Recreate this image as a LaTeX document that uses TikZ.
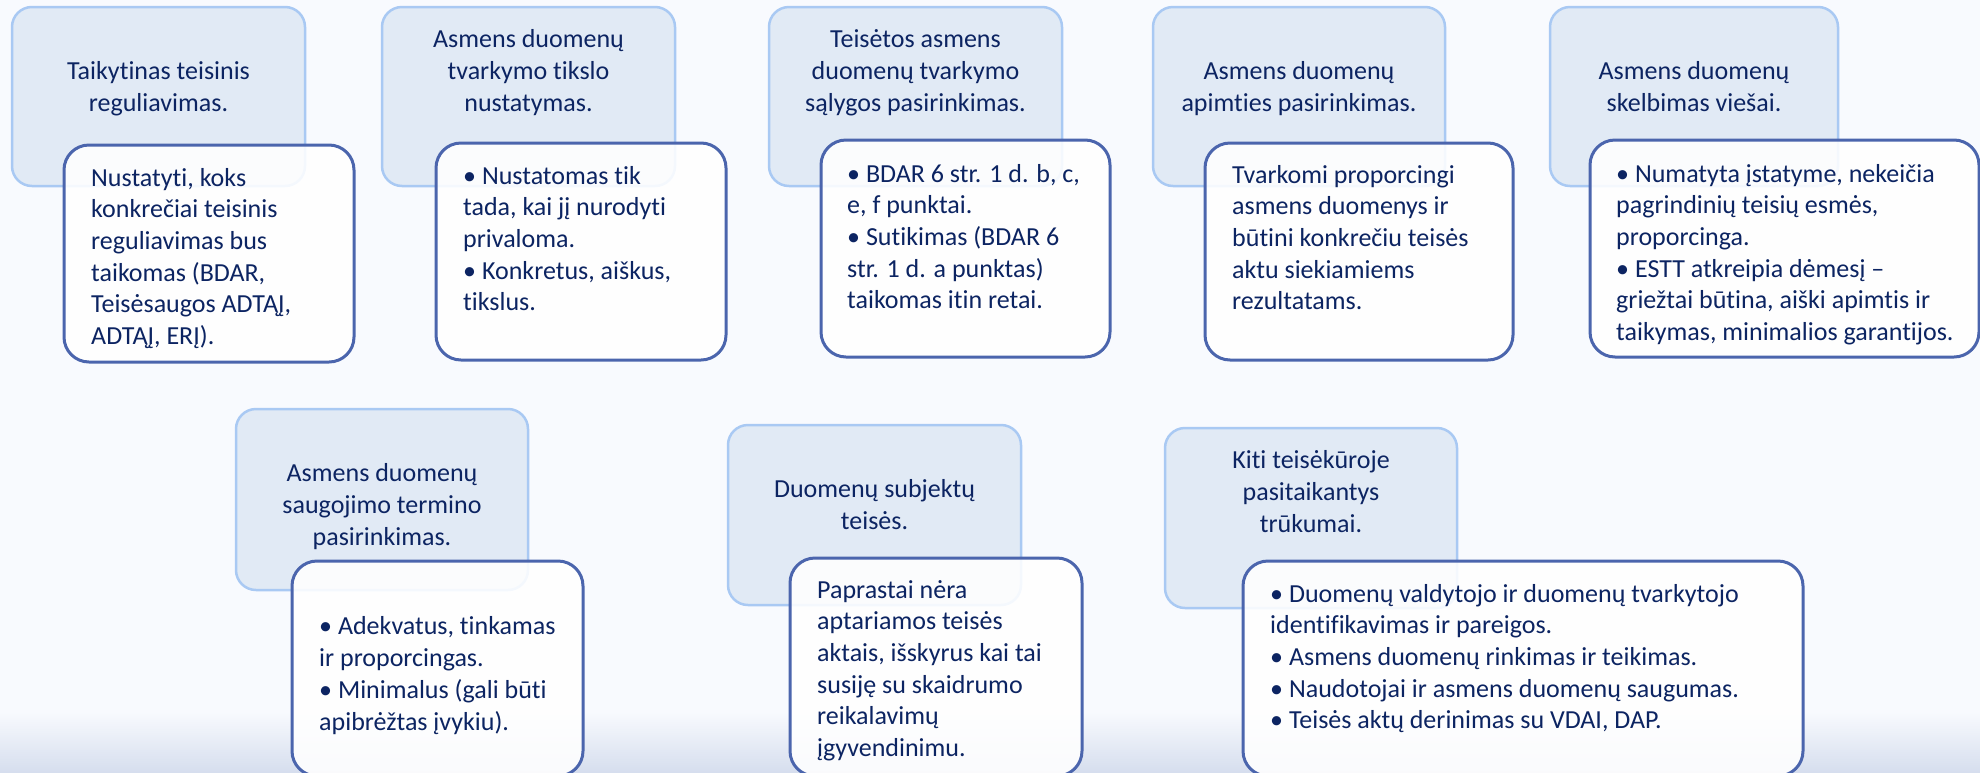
\documentclass[tikz,border=0pt]{standalone}
\usepackage{fontspec}
\setmainfont{Carlito}[Ligatures=NoCommon]
\definecolor{bg}{HTML}{F8FAFE}
\definecolor{bgbot}{HTML}{D6DEEE}
\definecolor{lightfill}{HTML}{E1EAF5}
\definecolor{lightedge}{HTML}{A9C9F3}
\definecolor{inneredge}{HTML}{4B65AD}
\definecolor{txt}{HTML}{0C2462}
\tikzset{
 lightbox/.style={draw=lightedge, line width=2.5pt, fill=lightfill, rounded corners=20pt},
 innerbox/.style={draw=inneredge, line width=3pt, fill=white, fill opacity=0.88, rounded corners=25pt},
 hdr/.style={align=center, text=txt, inner sep=0pt, anchor=base, font=\fontsize{26}{32}\selectfont},
 body/.style={align=left, text=txt, inner sep=0pt, anchor=base west, font=\fontsize{26}{31.7}\selectfont},
}
\begin{document}
\begin{tikzpicture}[x=1pt,y=-1pt]
\useasboundingbox (0,0) rectangle (1980,772);
\fill[bg] (0,0) rectangle (1980,772);
\shade[top color=bg, bottom color=bgbot] (0,712) rectangle (1980,772);
% ---- top row ----
\path[lightbox] (12,7) rectangle (305,186);
\node[hdr] (h1) at (158.5,111) {Taikytinas teisinis\\reguliavimas.};
\path[innerbox] (64,145) rectangle (354,362);
\node[body] (b1) at (91,344.5) {Nustatyti, koks\\konkrečiai teisinis\\reguliavimas bus\\taikomas (BDAR,\\Teisėsaugos ADTĄĮ,\\ADTĄĮ, ERĮ).};

\path[lightbox] (382,7) rectangle (675,186);
\node[hdr] (h2) at (528.5,111) {Asmens duomenų\\tvarkymo tikslo\\nustatymas.};
\path[innerbox] (436,143) rectangle (726,360);
\node[body] (b2) at (463,310.8) {• Nustatomas tik\\tada, kai jį nurodyti\\privaloma.\\• Konkretus, aiškus,\\tikslus.};

\path[lightbox] (769,7) rectangle (1062,186);
\node[hdr] (h3) at (915.5,111) {Teisėtos asmens\\duomenų tvarkymo\\sąlygos pasirinkimas.};
\path[innerbox] (821,140) rectangle (1110,357);
\node[body] (b3) at (847,308.8) {• BDAR 6 str. 1 d. b, c,\\e, f punktai.\\• Sutikimas (BDAR 6\\str. 1 d. a punktas)\\taikomas itin retai.};

\path[lightbox] (1153,7) rectangle (1445,186);
\node[hdr] (h4) at (1299,111) {Asmens duomenų\\apimties pasirinkimas.};
\path[innerbox] (1205,143) rectangle (1513,360);
\node[body] (b4) at (1232,309.8) {Tvarkomi proporcingi\\asmens duomenys ir\\būtini konkrečiu teisės\\aktu siekiamiems\\rezultatams.};

\path[lightbox] (1550,7) rectangle (1838,186);
\node[hdr] (h5) at (1694,111) {Asmens duomenų\\skelbimas viešai.};
\path[innerbox] (1590,140) rectangle (1979,357);
\node[body] (b5) at (1616,340.5) {• Numatyta įstatyme, nekeičia\\pagrindinių teisių esmės,\\proporcinga.\\• ESTT atkreipia dėmesį –\\griežtai būtina, aiški apimtis ir\\taikymas, minimalios garantijos.};
% ---- bottom row ----
\path[lightbox] (236,409) rectangle (528,590);
\node[hdr] (h6) at (382,545) {Asmens duomenų\\saugojimo termino\\pasirinkimas.};
\path[innerbox] (292,561) rectangle (583,776);
\node[body] (b6) at (319,730) {• Adekvatus, tinkamas\\ir proporcingas.\\• Minimalus (gali būti\\apibrėžtas įvykiu).};

\path[lightbox] (728,425) rectangle (1021,605);
\node[hdr] (h7) at (874.5,529) {Duomenų subjektų\\teisės.};
\path[innerbox] (790,558) rectangle (1082,776);
\node[body] (b7) at (817,756.5) {Paprastai nėra\\aptariamos teisės\\aktais, išskyrus kai tai\\susiję su skaidrumo\\reikalavimų\\įgyvendinimu.};

\path[lightbox] (1165,428) rectangle (1457,608);
\node[hdr] (h8) at (1311,532) {Kiti teisėkūroje\\pasitaikantys\\trūkumai.};
\path[innerbox] (1243,561) rectangle (1803,776);
\node[body] (b8) at (1270,728.8) {• Duomenų valdytojo ir duomenų tvarkytojo\\identifikavimas ir pareigos.\\• Asmens duomenų rinkimas ir teikimas.\\• Naudotojai ir asmens duomenų saugumas.\\• Teisės aktų derinimas su VDAI, DAP.};
\end{tikzpicture}
\end{document}
